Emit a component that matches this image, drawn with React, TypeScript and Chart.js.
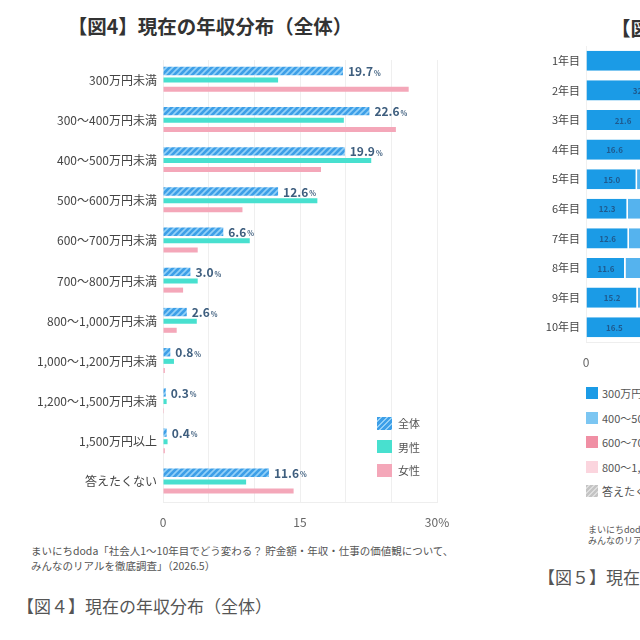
import React, { useEffect, useRef } from 'react';
import { Chart, registerables } from 'chart.js';

Chart.register(...registerables);

// ---- 図4: 現在の年収分布（全体） ----
const incomeBands = [
  '300万円未満',
  '300～400万円未満',
  '400～500万円未満',
  '500～600万円未満',
  '600～700万円未満',
  '700～800万円未満',
  '800～1,000万円未満',
  '1,000～1,200万円未満',
  '1,200～1,500万円未満',
  '1,500万円以上',
  '答えたくない',
];
const allValues = [19.7, 22.6, 19.9, 12.6, 6.6, 3.0, 2.6, 0.8, 0.3, 0.4, 11.6];
const maleValues = [12.6, 19.8, 22.8, 16.9, 9.5, 3.8, 3.7, 1.2, 0.4, 0.5, 9.1];
const femaleValues = [26.9, 25.5, 17.3, 8.7, 3.8, 2.2, 1.5, 0.2, 0.1, 0.2, 14.3];
const seriesNames = ['全体', '男性', '女性'];
const shownTicks = [0, 15, 30];

// ---- 図5: 年次別の年収分布 ----
const yearLabels = ['1年目', '2年目', '3年目', '4年目', '5年目', '6年目', '7年目', '8年目', '9年目', '10年目'];
const under300ByYear = [38.2, 32.3, 21.6, 16.6, 15.0, 12.3, 12.6, 11.6, 15.2, 16.5];
const from300to400ByYear = [24.0, 22.3, 25.1, 27.4, 26.8, 28.5, 27.9, 26.2, 25.5, 24.8];
const yearBandNames = ['300万円未満', '300～400万円未満'];
const yearLegendNames = ['300万円未満', '400～500万円未満', '600～700万円未満', '800～1,000万円未満', '答えたくない'];

const FONT = '"Noto Sans CJK JP", "Noto Sans", sans-serif';
const BLUE = '#3d9fe8';
const BLUE_STRIPE = '#93d0f7';
const TEAL = '#48e0cf';
const PINK = '#f4a7b9';
const YEAR_COLORS = ['#1b9be6', '#55b3ee'];
const YEAR_LEGEND_COLORS = ['#1b9be6', '#7cc6f2', '#f08fa4', '#fbd5de', '#cfcfcf'];

function makeHatch(base: string, stripe: string): CanvasPattern | string {
  const c = document.createElement('canvas');
  c.width = 6;
  c.height = 6;
  const g = c.getContext('2d');
  if (!g) return base;
  g.fillStyle = base;
  g.fillRect(0, 0, 6, 6);
  g.strokeStyle = stripe;
  g.lineWidth = 1.6;
  g.beginPath();
  g.moveTo(-1, 7);
  g.lineTo(7, -1);
  g.moveTo(-1, 1);
  g.lineTo(1, -1);
  g.moveTo(5, 7);
  g.lineTo(7, 5);
  g.stroke();
  return g.createPattern(c, 'repeat') || base;
}

// value labels to the right of the 全体 bars, with a small "%"
const totalLabels = {
  id: 'totalLabels',
  afterDatasetsDraw(chart: any) {
    const meta = chart.getDatasetMeta(0);
    const data = chart.data.datasets[0].data as number[];
    const ctx = chart.ctx as CanvasRenderingContext2D;
    ctx.save();
    ctx.fillStyle = '#3e5e7e';
    ctx.textAlign = 'left';
    ctx.textBaseline = 'middle';
    meta.data.forEach((bar: any, i: number) => {
      const txt = data[i].toFixed(1);
      const x = bar.x + 5;
      const y = bar.y + 0.5;
      ctx.font = `bold 12px ${FONT}`;
      ctx.fillText(txt, x, y);
      const w = ctx.measureText(txt).width;
      ctx.font = `bold 7px ${FONT}`;
      ctx.fillText('%', x + w + 1, y + 1.5);
    });
    ctx.restore();
  },
};

// labels in the middle of each stacked segment
const segmentLabels = {
  id: 'segmentLabels',
  afterDatasetsDraw(chart: any) {
    const ctx = chart.ctx as CanvasRenderingContext2D;
    ctx.save();
    ctx.font = `bold 8px ${FONT}`;
    ctx.fillStyle = '#1f5a8e';
    ctx.textAlign = 'center';
    ctx.textBaseline = 'middle';
    chart.data.datasets.forEach((ds: any, di: number) => {
      const meta = chart.getDatasetMeta(di);
      meta.data.forEach((bar: any, i: number) => {
        const x = (bar.x + bar.base) / 2;
        ctx.fillText((ds.data[i] as number).toFixed(1), x, bar.y + 0.5);
      });
    });
    ctx.restore();
  },
};

function IncomeChart() {
  const ref = useRef<HTMLCanvasElement | null>(null);
  useEffect(() => {
    if (!ref.current) return;
    const chart = new Chart(ref.current, {
      type: 'bar',
      data: {
        labels: incomeBands,
        datasets: [
          {
            label: seriesNames[0],
            data: allValues,
            backgroundColor: makeHatch(BLUE, BLUE_STRIPE) as any,
            barPercentage: 0.92,
          },
          { label: seriesNames[1], data: maleValues, backgroundColor: TEAL, barPercentage: 0.55 },
          { label: seriesNames[2], data: femaleValues, backgroundColor: PINK, barPercentage: 0.55 },
        ],
      },
      options: {
        indexAxis: 'y',
        responsive: false,
        animation: false,
        datasets: { bar: { categoryPercentage: 0.68 } },
        layout: { padding: { top: 60, right: 33, bottom: 8, left: 0 } },
        plugins: { legend: { display: false }, tooltip: { enabled: false }, title: { display: false } },
        scales: {
          x: {
            min: 0,
            max: 30,
            afterFit: (s: any) => {
              s.height = 30;
            },
            afterBuildTicks: (s: any) => {
              s.ticks = [0, 5, 10, 15, 20, 25, 30].map((v) => ({ value: v }));
            },
            grid: { color: '#efefef', drawTicks: false, lineWidth: 1 },
            border: { display: true, color: '#eeeeee' },
            ticks: {
              padding: 13,
              color: '#666',
              font: { family: FONT, size: 12 },
              autoSkip: false,
              maxRotation: 0,
              callback: (v: any) => {
                const n = Number(v);
                if (!shownTicks.includes(n)) return '';
                return n === 30 ? '30%' : String(n);
              },
            },
          },
          y: {
            afterFit: (s: any) => {
              s.width = 163;
            },
            grid: { display: false, drawTicks: false },
            border: { display: false },
            ticks: { padding: 6, color: '#444', font: { family: FONT, size: 12 }, autoSkip: false },
          },
        },
      },
      plugins: [totalLabels],
    });
    return () => chart.destroy();
  }, []);
  return <canvas ref={ref} width={470} height={540} style={{ position: 'absolute', left: 0, top: 0 }} />;
}

function YearChart() {
  const ref = useRef<HTMLCanvasElement | null>(null);
  useEffect(() => {
    if (!ref.current) return;
    const chart = new Chart(ref.current, {
      type: 'bar',
      data: {
        labels: yearLabels,
        datasets: [
          { label: yearBandNames[0], data: under300ByYear, backgroundColor: YEAR_COLORS[0] },
          { label: yearBandNames[1], data: from300to400ByYear, backgroundColor: YEAR_COLORS[1] },
        ],
      },
      options: {
        indexAxis: 'y',
        responsive: false,
        animation: false,
        datasets: {
          bar: {
            categoryPercentage: 1,
            barPercentage: 0.68,
            borderColor: '#ffffff',
            borderWidth: { top: 0, bottom: 0, left: 0, right: 1.5 } as any,
            borderSkipped: false,
          },
        },
        layout: { padding: { top: 46, right: 28, bottom: 8, left: 0 } },
        plugins: { legend: { display: false }, tooltip: { enabled: false } },
        scales: {
          x: {
            stacked: true,
            min: 0,
            max: 100,
            afterFit: (s: any) => {
              s.height = 30;
            },
            grid: { color: '#f0f0f0', drawTicks: false },
            border: { display: true, color: '#eeeeee' },
            ticks: {
              stepSize: 50,
              padding: 13,
              color: '#666',
              font: { family: FONT, size: 12 },
              callback: (v: any) => (Number(v) === 100 ? '100%' : String(v)),
            },
          },
          y: {
            stacked: true,
            afterFit: (s: any) => {
              s.width = 71;
            },
            grid: { display: false, drawTicks: false },
            border: { display: false },
            ticks: { padding: 6, color: '#444', font: { family: FONT, size: 11 }, autoSkip: false },
          },
        },
      },
      plugins: [segmentLabels],
    });
    return () => chart.destroy();
  }, []);
  return <canvas ref={ref} width={440} height={380} style={{ position: 'absolute', left: 515, top: 0 }} />;
}

const legendRow = (top: number, left: number): React.CSSProperties => ({
  position: 'absolute',
  top,
  left,
  display: 'flex',
  alignItems: 'center',
  whiteSpace: 'nowrap',
  height: 14,
});

export default function App() {
  const legendSwatches = [
    `repeating-linear-gradient(135deg, ${BLUE} 0px, ${BLUE} 2.4px, ${BLUE_STRIPE} 2.4px, ${BLUE_STRIPE} 4px)`,
    TEAL,
    PINK,
  ];
  return (
    <div
      style={{
        position: 'fixed',
        left: 0,
        top: 0,
        width: 640,
        height: 640,
        overflow: 'hidden',
        background: '#ffffff',
        fontFamily: FONT,
      }}
    >
      {/* 図4 */}
      <div
        style={{
          position: 'absolute',
          left: 0,
          width: 420,
          top: 12,
          textAlign: 'center',
          fontSize: 19.5,
          fontWeight: 700,
          color: '#333',
          lineHeight: '28px',
          whiteSpace: 'nowrap',
        }}
      >
        【図4】現在の年収分布（全体）
      </div>
      <IncomeChart />
      {seriesNames.map((name, i) => (
        <div key={name} style={legendRow(416 + i * 23.5, 377)}>
          <div style={{ width: 15, height: 13, background: legendSwatches[i] }} />
          <span style={{ marginLeft: 6, fontSize: 11, color: '#555' }}>{name}</span>
        </div>
      ))}
      <div
        style={{
          position: 'absolute',
          left: 31,
          top: 543,
          fontSize: 10.5,
          lineHeight: '15px',
          color: '#555',
          whiteSpace: 'nowrap',
        }}
      >
        <div>まいにちdoda「社会人1～10年目でどう変わる？ 貯金額・年収・仕事の価値観について、</div>
        <div>みんなのリアルを徹底調査」（2026.5）</div>
      </div>
      <div
        style={{
          position: 'absolute',
          left: 17,
          top: 593,
          fontSize: 17,
          lineHeight: '26px',
          color: '#555',
          whiteSpace: 'nowrap',
        }}
      >
        【図４】現在の年収分布（全体）
      </div>

      {/* 図5 (右側) */}
      <div
        style={{
          position: 'absolute',
          left: 611,
          top: 14,
          fontSize: 19.5,
          fontWeight: 700,
          color: '#333',
          lineHeight: '28px',
          whiteSpace: 'nowrap',
        }}
      >
        【図5】現在の年収分布（年次別）
      </div>
      <YearChart />
      {yearLegendNames.map((name, i) => (
        <div key={name} style={legendRow(386 + i * 24.5, 586)}>
          <div
            style={{
              width: 12,
              height: 12,
              background:
                i === 4
                  ? 'repeating-linear-gradient(135deg, #c4c4c4 0px, #c4c4c4 2px, #dedede 2px, #dedede 3.5px)'
                  : YEAR_LEGEND_COLORS[i],
            }}
          />
          <span style={{ marginLeft: 4, fontSize: 11, color: '#555' }}>{name}</span>
        </div>
      ))}
      <div
        style={{
          position: 'absolute',
          left: 588,
          top: 524,
          fontSize: 9,
          lineHeight: '11px',
          color: '#555',
          whiteSpace: 'nowrap',
        }}
      >
        <div>まいにちdoda「社会人1～10年目でどう変わる？</div>
        <div>みんなのリアルを徹底調査」（2026.5）</div>
      </div>
      <div
        style={{
          position: 'absolute',
          left: 538,
          top: 564,
          fontSize: 17,
          lineHeight: '26px',
          color: '#555',
          whiteSpace: 'nowrap',
        }}
      >
        【図５】現在の年収分布（年次別）
      </div>
    </div>
  );
}
